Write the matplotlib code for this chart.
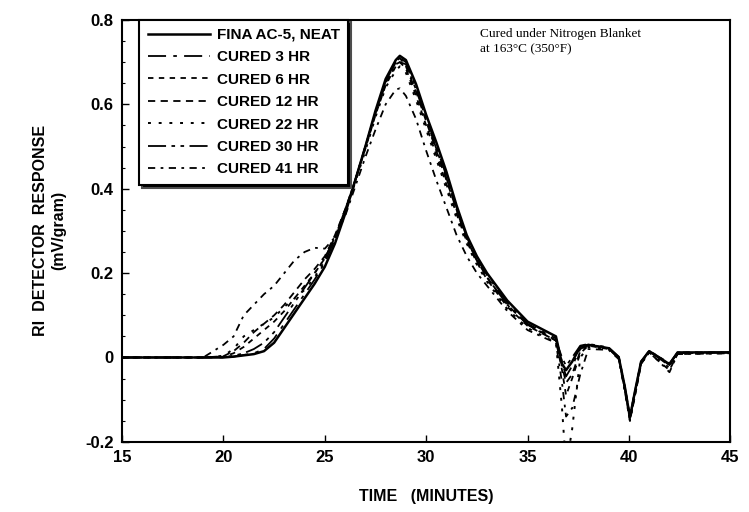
import matplotlib
matplotlib.use("Agg")
import matplotlib.pyplot as plt
from matplotlib.ticker import MultipleLocator

# elution time grid (minutes), shared by all traces
time_min = [15, 19, 20, 20.5, 21, 21.5, 22, 22.5, 23, 23.5, 24, 24.5, 25, 25.5, 26,
            26.5, 27, 27.5, 28, 28.5, 28.7, 29, 29.5, 30, 30.5, 31, 31.5, 32, 32.5,
            33, 34, 35, 36, 36.4, 36.7, 36.9, 37.2, 37.6, 38, 39, 39.5, 39.8, 40.05,
            40.3, 40.6, 41, 41.5, 42, 42.4, 45]

neat = [0, 0, 0, 0.002, 0.005, 0.008, 0.015, 0.035, 0.07, 0.105, 0.14, 0.175, 0.215, 0.27, 0.34,
        0.42, 0.50, 0.585, 0.66, 0.705, 0.715, 0.705, 0.648, 0.575, 0.51, 0.44, 0.36, 0.29, 0.24,
        0.20, 0.135, 0.085, 0.06, 0.05, -0.015, -0.03, -0.01, 0.025, 0.03, 0.022, 0.0, -0.07, -0.142,
        -0.08, -0.01, 0.015, 0.0, -0.016, 0.012, 0.012]
cured_3 = [0, 0, 0, 0.002, 0.006, 0.01, 0.02, 0.045, 0.08, 0.115, 0.15, 0.185, 0.225, 0.28, 0.345,
           0.42, 0.50, 0.58, 0.655, 0.70, 0.71, 0.70, 0.64, 0.57, 0.50, 0.43, 0.355, 0.285, 0.235,
           0.195, 0.13, 0.08, 0.055, 0.045, -0.01, -0.045, -0.02, 0.02, 0.03, 0.022, 0.0, -0.075, -0.145,
           -0.085, -0.012, 0.014, -0.002, -0.02, 0.01, 0.012]
cured_6 = [0, 0, 0.002, 0.01, 0.025, 0.045, 0.065, 0.085, 0.11, 0.14, 0.17, 0.20, 0.235, 0.285, 0.35,
           0.42, 0.495, 0.575, 0.645, 0.69, 0.70, 0.685, 0.62, 0.55, 0.48, 0.41, 0.34, 0.275, 0.225,
           0.185, 0.12, 0.075, 0.05, 0.04, -0.03, -0.09, -0.05, 0.01, 0.028, 0.02, -0.002, -0.075, -0.148,
           -0.09, -0.015, 0.012, -0.01, -0.03, 0.008, 0.01]
cured_12 = [0, 0, 0.003, 0.015, 0.035, 0.06, 0.08, 0.10, 0.125, 0.155, 0.185, 0.21, 0.24, 0.29, 0.35,
            0.42, 0.50, 0.58, 0.65, 0.70, 0.71, 0.69, 0.63, 0.56, 0.49, 0.42, 0.35, 0.28, 0.23,
            0.19, 0.125, 0.078, 0.052, 0.04, -0.02, -0.06, -0.04, 0.015, 0.03, 0.022, 0.0, -0.07, -0.14,
            -0.08, -0.01, 0.015, 0.0, -0.018, 0.012, 0.012]
cured_22 = [0, 0, 0.004, 0.02, 0.05, 0.065, 0.08, 0.095, 0.12, 0.14, 0.16, 0.19, 0.23, 0.28, 0.345,
            0.415, 0.49, 0.57, 0.64, 0.68, 0.69, 0.675, 0.61, 0.54, 0.47, 0.40, 0.33, 0.27, 0.22,
            0.18, 0.115, 0.07, 0.045, 0.035, -0.12, -0.26, -0.17, 0.0, 0.025, 0.02, -0.002, -0.08, -0.15,
            -0.09, -0.015, 0.013, -0.005, -0.025, 0.01, 0.012]
cured_30 = [0, 0, 0.001, 0.004, 0.01, 0.02, 0.035, 0.06, 0.095, 0.13, 0.165, 0.20, 0.235, 0.285, 0.35,
            0.42, 0.50, 0.58, 0.65, 0.695, 0.70, 0.695, 0.635, 0.565, 0.495, 0.425, 0.35, 0.28, 0.23,
            0.19, 0.125, 0.078, 0.05, 0.04, 0.0, -0.02, 0.0, 0.028, 0.032, 0.024, 0.002, -0.07, -0.14,
            -0.08, -0.01, 0.016, 0.001, -0.014, 0.012, 0.012]
cured_41 = [0, 0, 0.03, 0.05, 0.10, 0.125, 0.15, 0.17, 0.20, 0.23, 0.25, 0.26, 0.258, 0.285, 0.335,
            0.405, 0.475, 0.54, 0.60, 0.635, 0.638, 0.62, 0.565, 0.49, 0.42, 0.355, 0.29, 0.24, 0.20,
            0.17, 0.11, 0.065, 0.043, 0.035, -0.06, -0.14, -0.12, -0.04, 0.02, 0.018, -0.004, -0.08, -0.15,
            -0.09, -0.015, 0.012, -0.01, -0.035, 0.008, 0.01]

labels = ["FINA AC-5, NEAT", "CURED 3 HR", "CURED 6 HR", "CURED 12 HR",
          "CURED 22 HR", "CURED 30 HR", "CURED 41 HR"]
series = [neat, cured_3, cured_6, cured_12, cured_22, cured_30, cured_41]
styles = ["-", (0, (10, 4, 2, 4)), (0, (3, 3)), (0, (4, 3)),
          (0, (1.5, 4)), (0, (10, 3, 2, 3, 2, 3)), (0, (4, 3, 1.5, 3))]
widths = [1.8, 1.3, 1.3, 1.3, 1.4, 1.3, 1.3]

bold = {"family": "Liberation Sans", "weight": "bold"}

fig = plt.figure(figsize=(7.49, 5.12), dpi=100)
ax = fig.add_axes([0.163, 0.137, 0.812, 0.824])

for vals, lab, ls, lw in zip(series, labels, styles, widths):
    ax.plot(time_min, vals, color="black", linestyle=ls, linewidth=lw, label=lab)

ax.set_xlim(15, 45)
ax.set_ylim(-0.2, 0.8)
ax.xaxis.set_major_locator(MultipleLocator(5))
ax.yaxis.set_major_locator(MultipleLocator(0.2))
ax.yaxis.set_minor_locator(MultipleLocator(0.05))
ax.tick_params(direction="in", length=5, width=1.0, labelsize=12, pad=6)
ax.tick_params(which="minor", direction="in", length=2.5, width=0.8)
ax.set_yticks([-0.2, 0, 0.2, 0.4, 0.6, 0.8])
ax.set_yticklabels(["-0.2", "0", "0.2", "0.4", "0.6", "0.8"])
for lab in ax.get_xticklabels() + ax.get_yticklabels():
    lab.set_fontfamily("Liberation Sans")
    lab.set_fontweight("bold")
for sp in ax.spines.values():
    sp.set_linewidth(1.5)

ax.set_xlabel("TIME   (MINUTES)", fontsize=11.5, labelpad=17, **bold)
ax.set_ylabel("RI  DETECTOR  RESPONSE\n(mV/gram)", fontsize=11.5, labelpad=14,
              linespacing=1.25, **bold)

leg = ax.legend(loc="upper left", bbox_to_anchor=(0.016, 1.019), fancybox=False,
                shadow={"fc": "black", "alpha": 1}, handlelength=4.1, labelspacing=0.55,
                borderpad=0.55, handletextpad=0.4, framealpha=1,
                prop={"family": "Liberation Sans", "weight": "bold", "size": 11})
leg.get_frame().set_edgecolor("black")
leg.get_frame().set_linewidth(1.5)

ax.text(0.589, 0.948, "Cured under Nitrogen Blanket\nat 163\u00b0C (350\u00b0F)",
        transform=ax.transAxes, ha="left", va="center", fontsize=9.5,
        family="Liberation Serif", linespacing=1.4)

fig.savefig("out.png", dpi=100)
